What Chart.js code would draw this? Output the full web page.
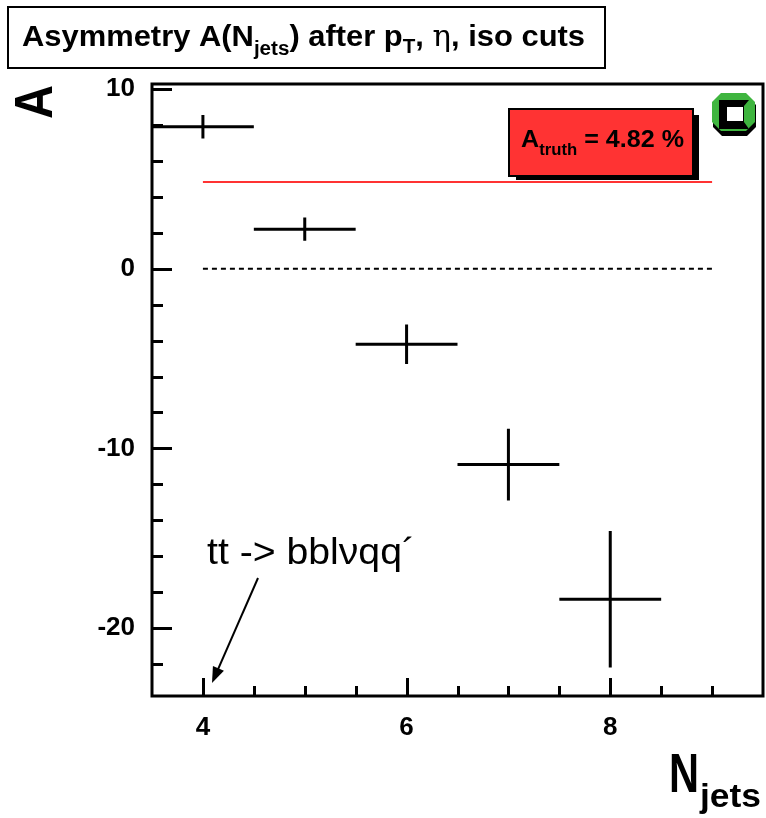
<!DOCTYPE html>
<html>
<head>
<meta charset="utf-8">
<script src="https://cdn.jsdelivr.net/npm/chart.js@4.4.1/dist/chart.umd.min.js"></script>
<style>
  body { margin: 0; background: #fff; }
  canvas { display: block; }
</style>
</head>
<body>
<canvas id="asymChart" width="766" height="818"></canvas>
<script>
// measured asymmetry per jet multiplicity
const nJets = [4, 5, 6, 7, 8];
const asym = [7.9, 2.2, -4.2, -10.9, -18.4];
const asymErr = [0.65, 0.65, 1.1, 2.0, 3.8];
const binHalfWidth = [0.5, 0.5, 0.5, 0.5, 0.5];

// reference lines
const aTruth = 4.82;
const refLineX = [4, 9];

// axes
const xRange = [3.5, 9.5];
const yRange = [-23.78, 10.28];
const xTickValues = [4, 4.5, 5, 5.5, 6, 6.5, 7, 7.5, 8, 8.5, 9];
const xTickLabels = [4, 6, 8];
const yTickValues = [-22, -20, -18, -16, -14, -12, -10, -8, -6, -4, -2, 0, 2, 4, 6, 8, 10];
const yTickLabels = [-20, -10, 0, 10];

const FONT = '"Liberation Sans", Arial, Helvetica, sans-serif';

// draws a run of text pieces (normal / subscript) squeezed to a target width
function drawRich(ctx, parts, x, y, targetWidth) {
  let total = 0;
  parts.forEach(p => { ctx.font = p.font; total += ctx.measureText(p.text).width; });
  const sx = targetWidth ? targetWidth / total : 1;
  ctx.save();
  ctx.translate(x, y);
  ctx.scale(sx, 1);
  let cx = 0;
  parts.forEach(p => {
    ctx.font = p.font;
    ctx.fillText(p.text, cx, p.dy || 0);
    cx += ctx.measureText(p.text).width;
  });
  ctx.restore();
}

function octagon(ctx, x, y, w, h, c) {
  ctx.beginPath();
  ctx.moveTo(x + c, y);
  ctx.lineTo(x + w - c, y);
  ctx.lineTo(x + w, y + c);
  ctx.lineTo(x + w, y + h - c);
  ctx.lineTo(x + w - c, y + h);
  ctx.lineTo(x + c, y + h);
  ctx.lineTo(x, y + h - c);
  ctx.lineTo(x, y + c);
  ctx.closePath();
  ctx.fill();
}

const decorations = {
  id: 'decorations',
  afterDatasetsDraw(chart) {
    const ctx = chart.ctx;
    const xs = chart.scales.x, ys = chart.scales.y;
    const area = chart.chartArea;

    // error bars of the measured points
    ctx.save();
    ctx.strokeStyle = '#000';
    ctx.lineWidth = 3;
    nJets.forEach((n, i) => {
      const px = xs.getPixelForValue(n), py = ys.getPixelForValue(asym[i]);
      ctx.beginPath();
      ctx.moveTo(xs.getPixelForValue(n - binHalfWidth[i]), py);
      ctx.lineTo(xs.getPixelForValue(n + binHalfWidth[i]), py);
      ctx.moveTo(px, ys.getPixelForValue(asym[i] + asymErr[i]));
      ctx.lineTo(px, ys.getPixelForValue(asym[i] - asymErr[i]));
      ctx.stroke();
    });
    ctx.restore();

    // frame and inward tick marks
    ctx.save();
    ctx.strokeStyle = '#000';
    ctx.lineWidth = 3;
    ctx.strokeRect(area.left, area.top, area.right - area.left, area.bottom - area.top);
    ctx.beginPath();
    yTickValues.forEach(v => {
      const py = Math.round(ys.getPixelForValue(v)) + 0.5;
      const len = yTickLabels.includes(v) ? 20 : 11;
      ctx.moveTo(area.left, py);
      ctx.lineTo(area.left + len, py);
    });
    xTickValues.forEach(v => {
      const px = Math.round(xs.getPixelForValue(v)) + 0.5;
      const len = xTickLabels.includes(v) ? 18 : 10;
      ctx.moveTo(px, area.bottom);
      ctx.lineTo(px, area.bottom - len);
    });
    ctx.stroke();
    ctx.restore();

    ctx.save();
    ctx.fillStyle = '#000';
    ctx.textBaseline = 'alphabetic';

    // title box
    ctx.strokeStyle = '#000';
    ctx.lineWidth = 2;
    ctx.fillStyle = '#fff';
    ctx.fillRect(8, 7, 597, 61);
    ctx.strokeRect(8, 7, 597, 61);
    ctx.fillStyle = '#000';
    const tb = 'bold 30px ' + FONT, ts = 'bold 20px ' + FONT;
    drawRich(ctx, [
      { text: 'Asymmetry A(N', font: tb },
      { text: 'jets', font: ts, dy: 9 },
      { text: ') after p', font: tb },
      { text: 'T', font: ts, dy: 7 },
      { text: ', ', font: tb },
      { text: 'η', font: '30px "DejaVu Serif", serif' },
      { text: ', iso cuts', font: tb }
    ], 22, 46, 563);

    // axis titles
    ctx.save();
    ctx.translate(52, 119);
    ctx.rotate(-Math.PI / 2);
    ctx.font = 'bold 54px ' + FONT;
    ctx.save();
    ctx.scale(34 / ctx.measureText('A').width, 1);
    ctx.fillText('A', 0, 0);
    ctx.restore();
    ctx.restore();

    drawRich(ctx, [
      { text: 'N', font: 'bold 56px ' + FONT },
    ], 669, 792, 30);
    drawRich(ctx, [
      { text: 'jets', font: 'bold 33px ' + FONT },
    ], 700, 807, 61);

    // truth value box with shadow
    ctx.fillStyle = '#000';
    ctx.fillRect(516, 115, 183, 65);
    ctx.fillStyle = '#ff3333';
    ctx.fillRect(509, 109, 184, 67);
    ctx.lineWidth = 2;
    ctx.strokeRect(509, 109, 184, 67);
    ctx.fillStyle = '#000';
    drawRich(ctx, [
      { text: 'A', font: 'bold 24px ' + FONT },
      { text: 'truth', font: 'bold 16px ' + FONT, dy: 8 },
      { text: ' = ' + aTruth.toFixed(2) + ' %', font: 'bold 24px ' + FONT }
    ], 521, 147, 163);

    // decay channel note with arrow
    ctx.fillStyle = '#000';
    drawRich(ctx, [
      { text: 'tt -> bblνqq´', font: '36px ' + FONT }
    ], 207, 564, 208);
    ctx.strokeStyle = '#000';
    ctx.lineWidth = 2;
    const ax0 = 258, ay0 = 578, ax1 = 212, ay1 = 683;
    const ang = Math.atan2(ay1 - ay0, ax1 - ax0);
    ctx.beginPath();
    ctx.moveTo(ax0, ay0);
    ctx.lineTo(ax1 - 10 * Math.cos(ang), ay1 - 10 * Math.sin(ang));
    ctx.stroke();
    ctx.beginPath();
    ctx.moveTo(ax1, ay1);
    ctx.lineTo(ax1 - 16 * Math.cos(ang) + 6 * Math.sin(ang), ay1 - 16 * Math.sin(ang) - 6 * Math.cos(ang));
    ctx.lineTo(ax1 - 16 * Math.cos(ang) - 6 * Math.sin(ang), ay1 - 16 * Math.sin(ang) + 6 * Math.cos(ang));
    ctx.closePath();
    ctx.fill();

    // small green corner button
    ctx.fillStyle = '#000';
    octagon(ctx, 713, 96, 43, 40, 9);
    ctx.fillStyle = '#3fb53f';
    octagon(ctx, 712, 93, 43, 38, 9);
    ctx.fillStyle = '#000';
    ctx.fillRect(719, 100, 30, 29);
    ctx.fillStyle = '#3fb53f';
    ctx.beginPath();
    ctx.moveTo(749, 100);
    ctx.lineTo(749, 129);
    ctx.lineTo(744, 122);
    ctx.lineTo(744, 106);
    ctx.closePath();
    ctx.fill();
    ctx.fillStyle = '#fff';
    ctx.fillRect(727, 107, 16, 14);
    ctx.restore();
  }
};

new Chart(document.getElementById('asymChart'), {
  type: 'scatter',
  data: {
    datasets: [{
      label: 'A truth',
      data: refLineX.map(x => ({ x: x, y: aTruth })),
      showLine: true,
      borderColor: '#ff3333',
      borderWidth: 2,
      pointRadius: 0
    }, {
      label: 'zero',
      data: refLineX.map(x => ({ x: x, y: 0 })),
      showLine: true,
      borderColor: '#000',
      borderWidth: 2,
      borderDash: [5, 4],
      pointRadius: 0
    }, {
      label: 'A(Njets)',
      data: nJets.map((n, i) => ({ x: n, y: asym[i] })),
      pointRadius: 0,
      borderColor: '#000'
    }]
  },
  options: {
    responsive: false,
    devicePixelRatio: 1,
    animation: false,
    layout: { padding: { top: 84, right: 3, left: 0, bottom: 0 } },
    plugins: { legend: { display: false }, tooltip: { enabled: false } },
    scales: {
      x: {
        type: 'linear',
        min: xRange[0],
        max: xRange[1],
        afterBuildTicks: s => { s.ticks = xTickValues.map(v => ({ value: v })); },
        afterFit: s => { s.height = 122; },
        grid: { display: false },
        border: { display: false },
        ticks: {
          autoSkip: false,
          maxRotation: 0,
          padding: 8,
          color: '#000',
          font: { family: FONT, size: 26, weight: 'bold' },
          callback: v => xTickLabels.includes(v) ? String(v) : ''
        }
      },
      y: {
        type: 'linear',
        min: yRange[0],
        max: yRange[1],
        afterBuildTicks: s => { s.ticks = yTickValues.map(v => ({ value: v })); },
        afterFit: s => { s.width = 152; },
        grid: { display: false },
        border: { display: false },
        ticks: {
          autoSkip: false,
          padding: 9,
          color: '#000',
          font: { family: FONT, size: 26, weight: 'bold' },
          callback: v => yTickLabels.includes(v) ? String(v) : ''
        }
      }
    }
  },
  plugins: [decorations]
});
</script>
</body>
</html>
